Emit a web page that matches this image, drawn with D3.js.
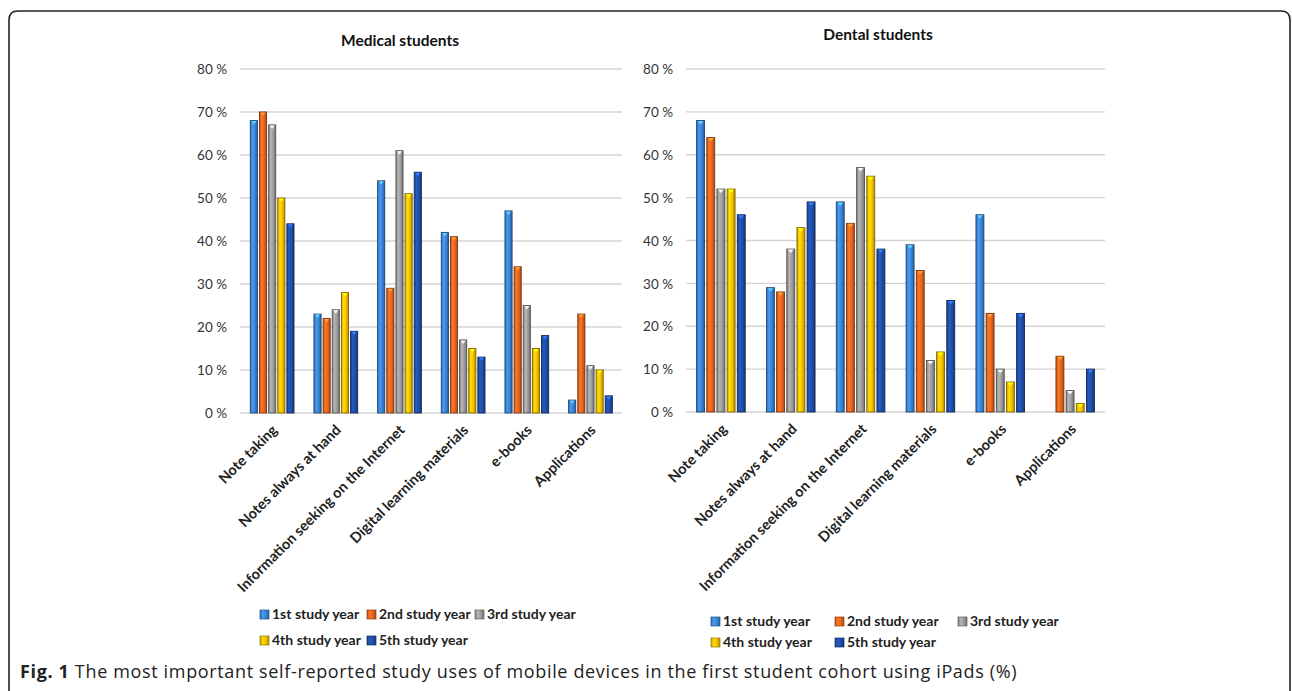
<!DOCTYPE html>
<html>
<head>
<meta charset="utf-8">
<script src="https://cdn.jsdelivr.net/npm/d3@7"></script>
<style>
  html, body { margin: 0; padding: 0; background: #fff; }
  svg { display: block; }
</style>
</head>
<body>
<svg id="fig" width="1292" height="691"></svg>
<script>
// Study uses of iPads, share of students (%) by study year
const categories = ["Note taking", "Notes always at hand", "Information seeking on the Internet",
                    "Digital learning materials", "e-books", "Applications"];
const seriesNames = ["1st study year", "2nd study year", "3rd study year", "4th study year", "5th study year"];
const seriesColors = ["#3a84d4", "#e8651e", "#9c9c9c", "#f5c000", "#1f4ea6"];

// Values per category, one entry per study year (1st..5th)
const medical = [
  [68, 70, 67, 50, 44],
  [23, 22, 24, 28, 19],
  [54, 29, 61, 51, 56],
  [42, 41, 17, 15, 13],
  [47, 34, 25, 15, 18],
  [3, 23, 11, 10, 4]
];
const dental = [
  [68, 64, 52, 52, 46],
  [29, 28, 38, 43, 49],
  [49, 44, 57, 55, 38],
  [39, 33, 12, 14, 26],
  [46, 23, 10, 7, 23],
  [0, 13, 5, 2, 10]
];
const yTicks = [0, 10, 20, 30, 40, 50, 60, 70, 80];
const caption = "The most important self-reported study uses of mobile devices in the first student cohort using iPads (%)";

const svg = d3.select("#fig");
const FONT = "Lato, 'Open Sans', sans-serif";

// Frame around the figure
svg.append("path")
  .attr("d", "M9,691 L9,20 Q9,11 18,11 L1281,11 Q1290,11 1290,20 L1290,691")
  .attr("fill", "none").attr("stroke", "#222").attr("stroke-width", 1.6);

// Cylinder-like gradients for bars and legend keys
const defs = svg.append("defs");
seriesColors.forEach((c, i) => {
  const base = d3.color(c);
  const g = defs.append("linearGradient").attr("id", "grad" + i)
    .attr("x1", "0%").attr("x2", "100%").attr("y1", "0%").attr("y2", "0%");
  g.append("stop").attr("offset", "0%").attr("stop-color", base.darker(0.6));
  g.append("stop").attr("offset", "30%").attr("stop-color", base.brighter(0.45));
  g.append("stop").attr("offset", "65%").attr("stop-color", base);
  g.append("stop").attr("offset", "100%").attr("stop-color", base.darker(0.9));
});

function drawPanel(opts) {
  const { data, title, titleX, titleY, x0, x1r, yTop, yBottom, inner, legend } = opts;
  const g = svg.append("g");

  const y = d3.scaleLinear().domain([0, 80]).range([yBottom, yTop]);
  const xb = d3.scaleBand().domain(categories).range([x0, x1r]).paddingInner(0).paddingOuter(0);
  const bw = xb.bandwidth();
  const xs = d3.scaleBand().domain(d3.range(seriesNames.length))
    .range([bw * inner[0], bw * inner[1]]).padding(0.22);

  // Gridlines
  g.append("g").selectAll("line").data(yTicks).join("line")
    .attr("x1", x0).attr("x2", x1r)
    .attr("y1", d => y(d)).attr("y2", d => y(d))
    .attr("stroke", "#d4d4d4").attr("stroke-width", 1.4);

  // Y axis labels
  const yAxis = d3.axisLeft(y).tickValues(yTicks).tickSize(0).tickPadding(0)
    .tickFormat(d => d + " %");
  g.append("g").attr("transform", `translate(${x0 - 13},0)`).call(yAxis)
    .call(s => s.select(".domain").remove())
    .selectAll("text").attr("font-family", FONT).attr("font-size", 13.5)
    .attr("fill", "#333").attr("dy", "0.35em");

  // Bars
  const groups = g.append("g").selectAll("g").data(data).join("g")
    .attr("transform", (d, i) => `translate(${xb(categories[i])},0)`);
  const bars = groups.selectAll("g").data(d => d.map((v, j) => ({ v, j }))).join("g")
    .filter(d => d.v > 0);
  bars.append("rect")
    .attr("x", d => xs(d.j)).attr("width", xs.bandwidth())
    .attr("y", d => y(d.v)).attr("height", d => y(0) - y(d.v))
    .attr("fill", d => `url(#grad${d.j})`)
    .attr("stroke", d => d3.color(seriesColors[d.j]).darker(1.8))
    .attr("stroke-width", 0.9);
  bars.append("path")
    .attr("d", d => {
      const xl = xs(d.j) + 1, xr = xs(d.j) + xs.bandwidth() - 1, yt = y(d.v) + 0.5;
      return `M${xl},${yt} L${xr},${yt} L${(xl + xr) / 2},${yt + 3.5} Z`;
    })
    .attr("fill", d => d3.color(seriesColors[d.j]).brighter(1.3));

  // Category labels, rotated
  g.append("g").selectAll("text").data(categories).join("text")
    .attr("transform", d => `translate(${xb(d) + bw * 0.6},${yBottom + 18}) rotate(-45)`)
    .attr("text-anchor", "end").attr("font-family", FONT).attr("font-weight", "bold")
    .attr("font-size", 14.5).attr("fill", "#222").text(d => d);

  // Title
  g.append("text").attr("x", titleX).attr("y", titleY).attr("text-anchor", "middle")
    .attr("font-family", FONT).attr("font-weight", "bold").attr("font-size", 15.5)
    .attr("fill", "#111").text(title);

  // Legend
  const lg = g.append("g").selectAll("g").data(seriesNames).join("g")
    .attr("transform", (d, i) => `translate(${legend[i][0]},${legend[i][1]})`);
  lg.append("rect").attr("x", 0).attr("y", -9).attr("width", 9).attr("height", 9)
    .attr("fill", (d, i) => `url(#grad${i})`)
    .attr("stroke", (d, i) => d3.color(seriesColors[i]).darker(1.4)).attr("stroke-width", 0.7);
  lg.append("text").attr("x", 12).attr("y", 0).attr("font-family", FONT)
    .attr("font-weight", "bold").attr("font-size", 14).attr("fill", "#222").text(d => d);
}

drawPanel({
  data: medical, title: "Medical students", titleX: 400, titleY: 46,
  x0: 240, x1r: 622, yTop: 69, yBottom: 413, inner: [0.13, 0.88],
  legend: [[260, 619], [367, 619], [475, 619], [260, 645], [367, 645]]
});
drawPanel({
  data: dental, title: "Dental students", titleX: 878, titleY: 40,
  x0: 686, x1r: 1105, yTop: 69, yBottom: 412, inner: [0.12, 0.88],
  legend: [[711, 626], [835, 626], [958, 626], [711, 647], [835, 647]]
});

// Caption
const cap = svg.append("text").attr("x", 20).attr("y", 678)
  .attr("font-family", "'Open Sans', sans-serif").attr("font-size", 18)
  .attr("letter-spacing", 0.65).attr("fill", "#222");
cap.append("tspan").attr("font-weight", "bold").text("Fig. 1");
cap.append("tspan").text(" " + caption);
</script>
</body>
</html>
